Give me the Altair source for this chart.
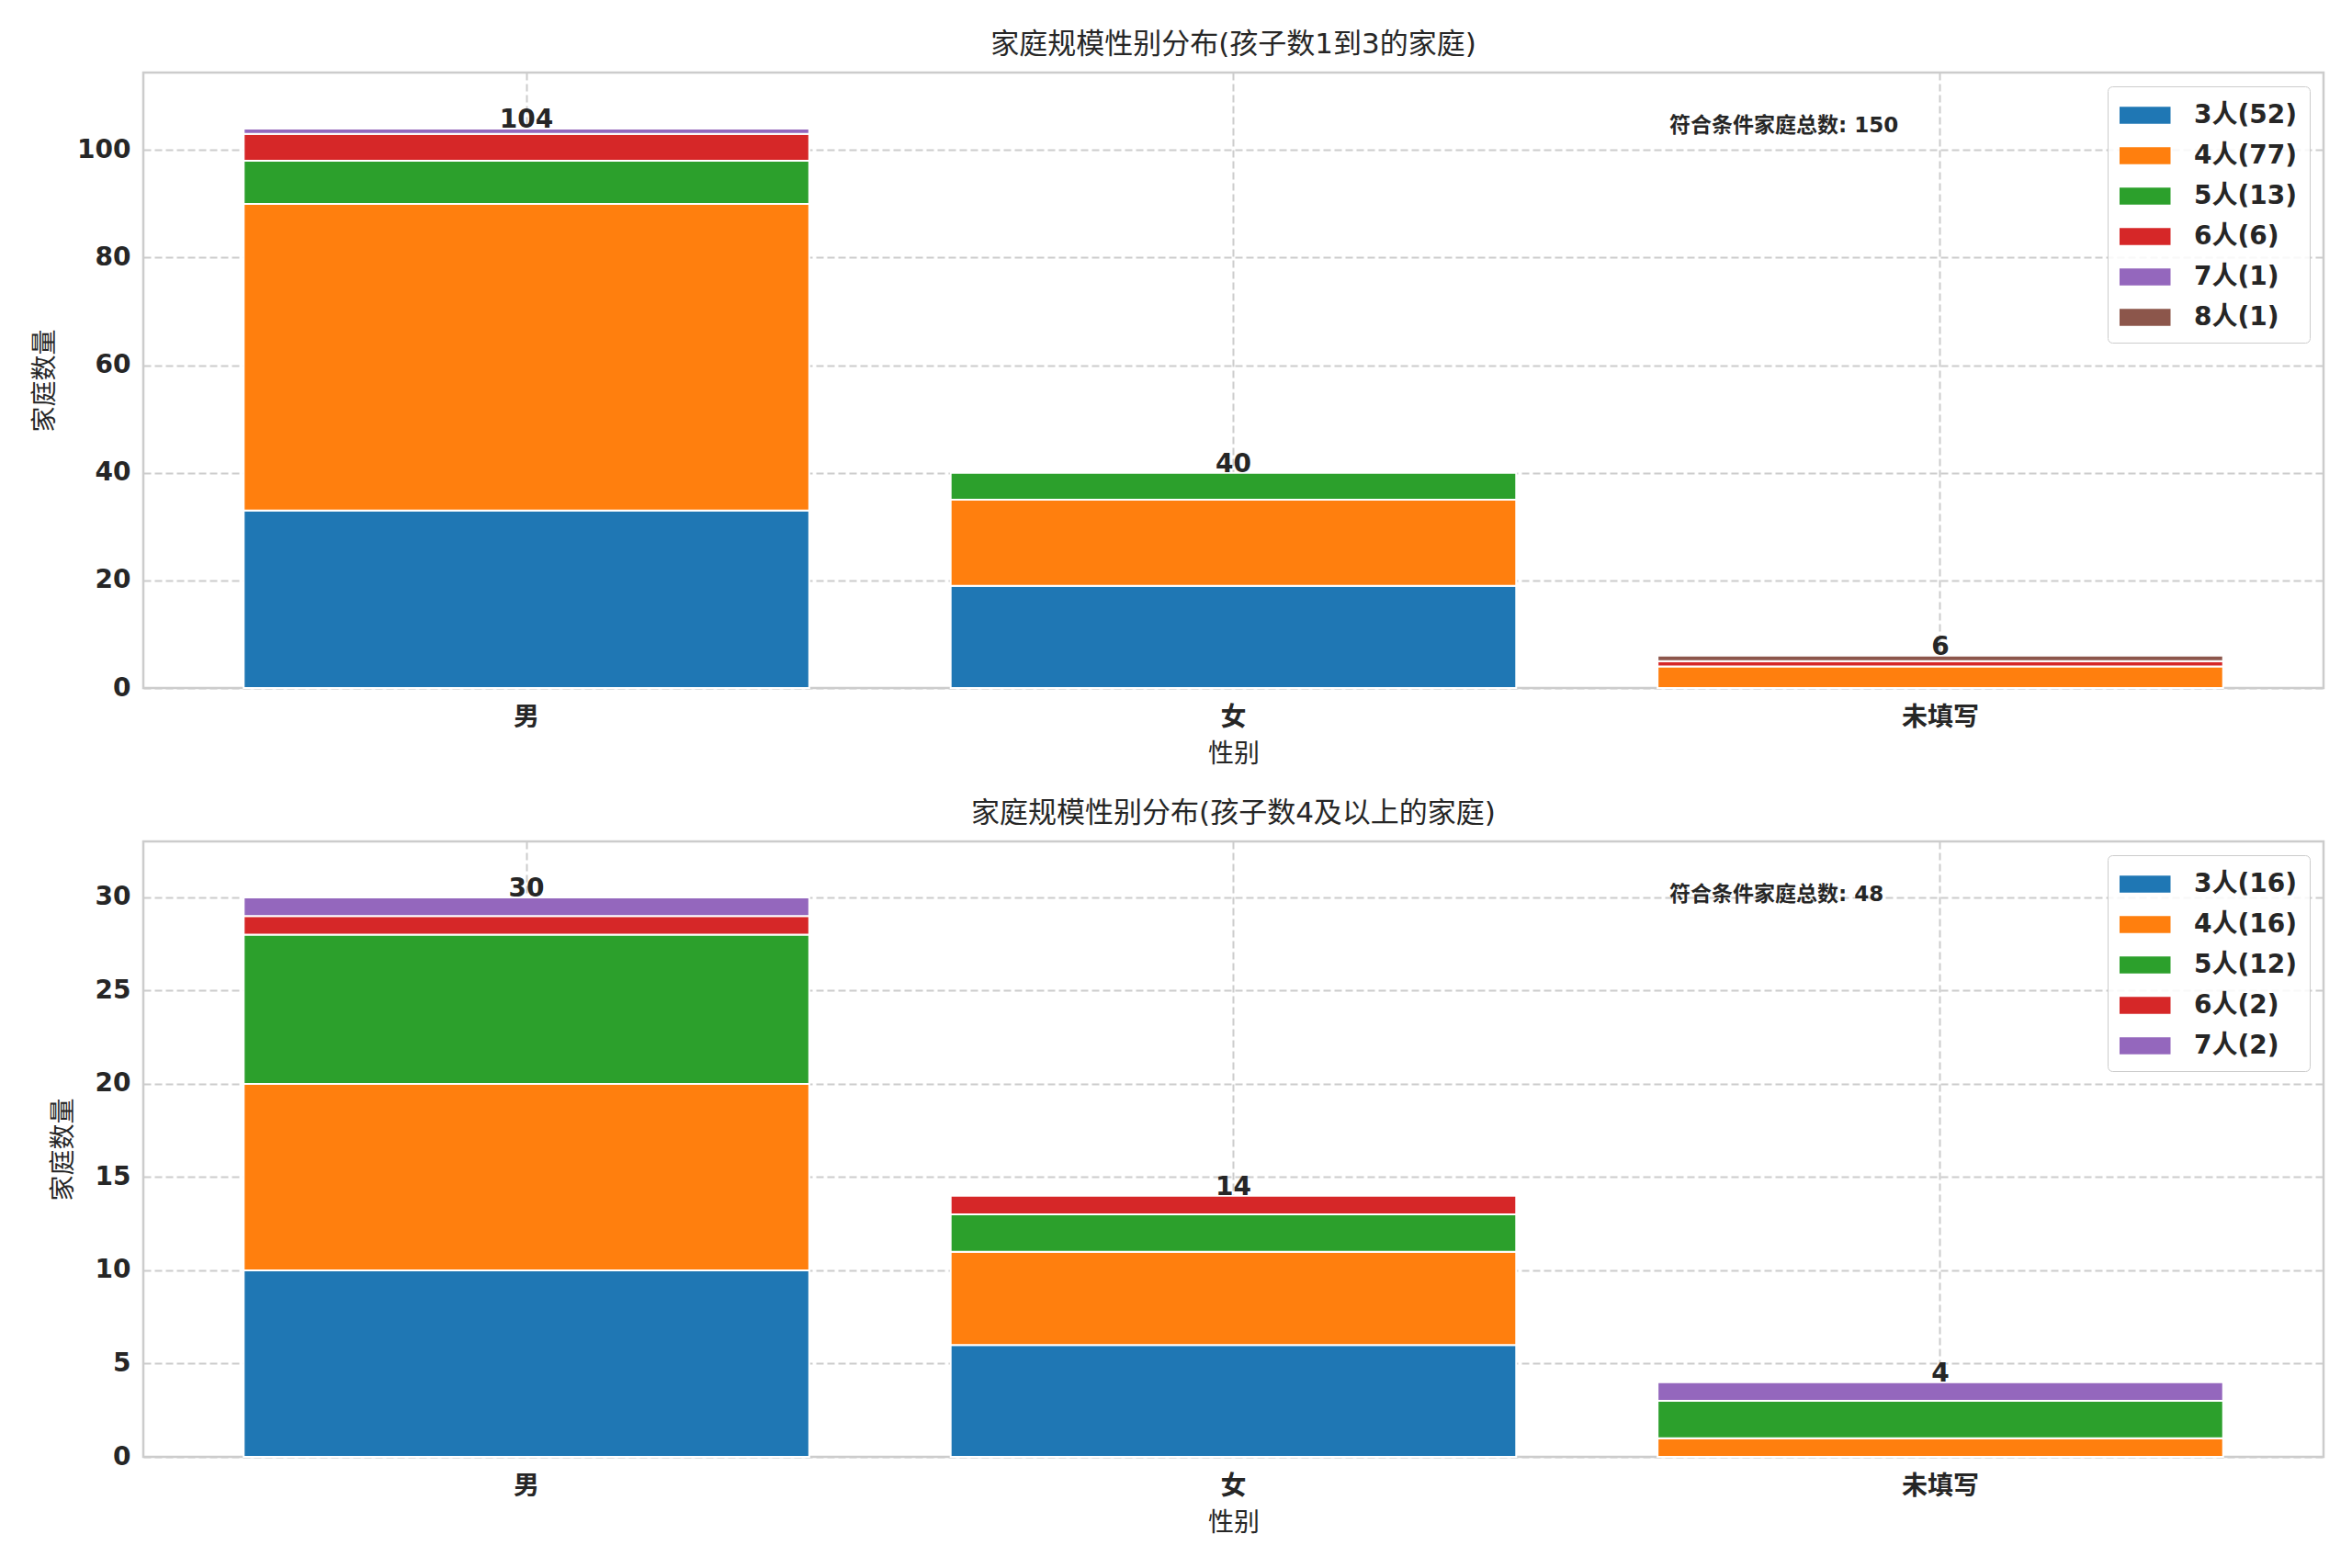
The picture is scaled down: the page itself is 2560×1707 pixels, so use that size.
import altair as alt
import pandas as pd

# ---- data ----
genders = ["男", "女", "未填写"]

sizes_top = ["3", "4", "5", "6", "7", "8"]
counts_top = {
    "3": [33, 19, 0],
    "4": [57, 16, 4],
    "5": [8, 5, 0],
    "6": [5, 0, 1],
    "7": [1, 0, 0],
    "8": [0, 0, 1],
}
yticks_top = [0, 20, 40, 60, 80, 100]

sizes_bot = ["3", "4", "5", "6", "7"]
counts_bot = {
    "3": [10, 6, 0],
    "4": [10, 5, 1],
    "5": [8, 2, 2],
    "6": [1, 1, 0],
    "7": [1, 0, 1],
}
yticks_bot = [0, 5, 10, 15, 20, 25, 30]

title_top = "家庭规模性别分布(孩子数1到3的家庭)"
title_bot = "家庭规模性别分布(孩子数4及以上的家庭)"
note_prefix = "符合条件家庭总数"
x_title = "性别"
y_title = "家庭数量"
size_unit = "人"

palette = ["#1f77b4", "#ff7f0e", "#2ca02c", "#d62728", "#9467bd", "#8c564b"]

W = 2373
H = 670
FONT = "DejaVu Sans, Noto Sans CJK SC"
TXT = "#262626"


def panel(title, sizes, counts, yticks):
    rows = []
    labels = []
    for s in sizes:
        tot = sum(counts[s])
        lab = f"{s}{size_unit}({tot})"
        labels.append(lab)
        for g, v in zip(genders, counts[s]):
            if v > 0:
                rows.append({"gender": g, "size": int(s), "label": lab, "count": v})
    df = pd.DataFrame(rows)
    totals = [sum(counts[s][i] for s in sizes) for i in range(len(genders))]
    tdf = pd.DataFrame({"gender": genders, "total": totals})
    ymax = max(totals) * 1.1

    xenc = alt.X(
        "gender:N",
        sort=genders,
        title=x_title,
        scale=alt.Scale(paddingInner=0.2, paddingOuter=0.142),
        axis=alt.Axis(labelAngle=0, bandPosition=0.5, grid=True, ticks=False,
                      domain=False, labelPadding=18, titlePadding=12,
                      labelFontWeight="bold"),
    )
    yscale = alt.Scale(domain=[0, ymax], nice=False)
    yaxis = alt.Axis(values=yticks, title=y_title, ticks=False, domain=False,
                     labelPadding=14, titlePadding=20, labelFontWeight="bold")

    bars = alt.Chart(df).mark_bar(stroke="white", strokeWidth=2).encode(
        x=xenc,
        y=alt.Y("count:Q", stack="zero", scale=yscale, axis=yaxis),
        color=alt.Color(
            "label:N",
            scale=alt.Scale(domain=labels, range=palette[: len(labels)]),
            legend=alt.Legend(
                title=None,
                orient="top-right",
                offset=15,
                labelFontSize=28,
                labelFontWeight="bold",
                labelColor=TXT,
                labelFont=FONT,
                symbolType="M-1,-0.5H2V0.5H-1Z",
                symbolSize=1369,
                symbolStrokeWidth=0,
                labelOffset=44,
                rowPadding=11,
                padding=13,
                strokeColor="#cccccc",
                fillColor="rgba(255,255,255,0.85)",
                cornerRadius=5,
            ),
        ),
        order=alt.Order("size:Q", sort="ascending"),
    )

    text = alt.Chart(tdf).mark_text(
        baseline="alphabetic", dy=-1, fontSize=28, fontWeight="bold", color=TXT, font=FONT
    ).encode(
        x=alt.X("gender:N", sort=genders, title=x_title),
        y=alt.Y("total:Q", scale=yscale, title=y_title),
        text="total:Q",
    )

    ndf = pd.DataFrame({"t": [f"{note_prefix}: {sum(totals)}"]})
    note = alt.Chart(ndf).mark_text(
        align="left", baseline="middle", fontSize=23, fontWeight="bold", color=TXT, font=FONT
    ).encode(x=alt.value(0.70 * W), y=alt.value(58), text="t:N")

    return alt.layer(bars, text, note).properties(
        width=W,
        height=H,
        title=alt.TitleParams(title, fontSize=31, fontWeight="normal", color=TXT,
                              font=FONT, offset=14, anchor="middle"),
    )


top = panel(title_top, sizes_top, counts_top, yticks_top)
bot = panel(title_bot, sizes_bot, counts_bot, yticks_bot)

chart = (
    alt.vconcat(top, bot, spacing=31)
    .resolve_scale(color="independent", y="independent", x="independent")
    .resolve_legend(color="independent")
    .properties(padding={"left": 26, "top": 23, "right": 5, "bottom": 5}, background="white")
    .configure_view(stroke="#cccccc", strokeWidth=2.5)
    .configure_axis(
        labelFont=FONT,
        titleFont=FONT,
        labelFontSize=28,
        titleFontSize=28,
        labelColor=TXT,
        titleColor=TXT,
        titleFontWeight="normal",
        gridColor="#cccccc",
        gridDash=[8, 4],
        gridWidth=2,
    )
)

chart.save("out.html", embed_options={"renderer": "svg", "actions": False})
